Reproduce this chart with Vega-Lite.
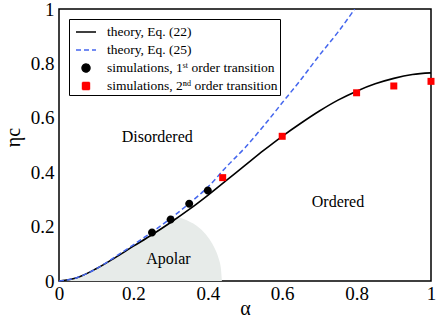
{
  "$schema": "https://vega.github.io/schema/vega-lite/v6.json",
  "autosize": {"type": "none"},
  "width": 372,
  "height": 272,
  "padding": {"left": 59, "top": 9, "right": 5, "bottom": 40},
  "background": "white",
  "config": {
    "font": "Liberation Serif",
    "view": {"stroke": "black", "strokeWidth": 1.5},
    "axis": {
      "domain": false,
      "grid": false,
      "tickColor": "black",
      "tickWidth": 1.2,
      "tickSize": 0,
      "labelFont": "Liberation Serif",
      "labelFontSize": 19,
      "labelColor": "black",
      "labelFlush": false,
      "labelOverlap": false,
      "titleFont": "Liberation Serif",
      "titleFontSize": 20,
      "titleFontWeight": "normal",
      "titleColor": "black"
    },
    "legend": {
      "labelFont": "Liberation Serif",
      "labelFontSize": 13.5,
      "labelColor": "black",
      "labelLimit": 0
    }
  },
  "datasets": {
    "apolar": [
      {"a": 0, "e": 0}, {"a": 0.05, "e": 0.013}, {"a": 0.1, "e": 0.045}, {"a": 0.15, "e": 0.085},
      {"a": 0.2, "e": 0.128}, {"a": 0.25, "e": 0.17}, {"a": 0.3, "e": 0.215}, {"a": 0.32, "e": 0.233},
      {"a": 0.34, "e": 0.225}, {"a": 0.35, "e": 0.219}, {"a": 0.36, "e": 0.212}, {"a": 0.37, "e": 0.203},
      {"a": 0.38, "e": 0.192}, {"a": 0.39, "e": 0.178}, {"a": 0.4, "e": 0.162}, {"a": 0.41, "e": 0.142},
      {"a": 0.42, "e": 0.116}, {"a": 0.43, "e": 0.079}, {"a": 0.435, "e": 0.049}, {"a": 0.438, "e": 0}
    ],
    "theory22": [
      {"series": "theory, Eq. (22)", "a": 0, "e": 0},
      {"series": "theory, Eq. (22)", "a": 0.05, "e": 0.013},
      {"series": "theory, Eq. (22)", "a": 0.1, "e": 0.045},
      {"series": "theory, Eq. (22)", "a": 0.15, "e": 0.085},
      {"series": "theory, Eq. (22)", "a": 0.2, "e": 0.128},
      {"series": "theory, Eq. (22)", "a": 0.25, "e": 0.17},
      {"series": "theory, Eq. (22)", "a": 0.3, "e": 0.215},
      {"series": "theory, Eq. (22)", "a": 0.35, "e": 0.263},
      {"series": "theory, Eq. (22)", "a": 0.4, "e": 0.315},
      {"series": "theory, Eq. (22)", "a": 0.45, "e": 0.37},
      {"series": "theory, Eq. (22)", "a": 0.5, "e": 0.425},
      {"series": "theory, Eq. (22)", "a": 0.55, "e": 0.48},
      {"series": "theory, Eq. (22)", "a": 0.6, "e": 0.532},
      {"series": "theory, Eq. (22)", "a": 0.65, "e": 0.58},
      {"series": "theory, Eq. (22)", "a": 0.7, "e": 0.625},
      {"series": "theory, Eq. (22)", "a": 0.75, "e": 0.665},
      {"series": "theory, Eq. (22)", "a": 0.8, "e": 0.698},
      {"series": "theory, Eq. (22)", "a": 0.85, "e": 0.725},
      {"series": "theory, Eq. (22)", "a": 0.9, "e": 0.745},
      {"series": "theory, Eq. (22)", "a": 0.95, "e": 0.759},
      {"series": "theory, Eq. (22)", "a": 1.0, "e": 0.765}
    ],
    "theory25": [
      {"series": "theory, Eq. (25)", "a": 0, "e": 0},
      {"series": "theory, Eq. (25)", "a": 0.05, "e": 0.013},
      {"series": "theory, Eq. (25)", "a": 0.1, "e": 0.045},
      {"series": "theory, Eq. (25)", "a": 0.15, "e": 0.088},
      {"series": "theory, Eq. (25)", "a": 0.2, "e": 0.133},
      {"series": "theory, Eq. (25)", "a": 0.25, "e": 0.18},
      {"series": "theory, Eq. (25)", "a": 0.3, "e": 0.23},
      {"series": "theory, Eq. (25)", "a": 0.35, "e": 0.285},
      {"series": "theory, Eq. (25)", "a": 0.4, "e": 0.345},
      {"series": "theory, Eq. (25)", "a": 0.45, "e": 0.42},
      {"series": "theory, Eq. (25)", "a": 0.5, "e": 0.49},
      {"series": "theory, Eq. (25)", "a": 0.55, "e": 0.57},
      {"series": "theory, Eq. (25)", "a": 0.6, "e": 0.655},
      {"series": "theory, Eq. (25)", "a": 0.65, "e": 0.74},
      {"series": "theory, Eq. (25)", "a": 0.7, "e": 0.83},
      {"series": "theory, Eq. (25)", "a": 0.75, "e": 0.915},
      {"series": "theory, Eq. (25)", "a": 0.795, "e": 1.0}
    ],
    "sims": [
      {"series": "simulations, 1ˢᵗ order transition", "a": 0.25, "e": 0.178},
      {"series": "simulations, 1ˢᵗ order transition", "a": 0.3, "e": 0.226},
      {"series": "simulations, 1ˢᵗ order transition", "a": 0.35, "e": 0.284},
      {"series": "simulations, 1ˢᵗ order transition", "a": 0.4, "e": 0.333},
      {"series": "simulations, 2ⁿᵈ order transition", "a": 0.44, "e": 0.38},
      {"series": "simulations, 2ⁿᵈ order transition", "a": 0.6, "e": 0.532},
      {"series": "simulations, 2ⁿᵈ order transition", "a": 0.8, "e": 0.692},
      {"series": "simulations, 2ⁿᵈ order transition", "a": 0.9, "e": 0.717},
      {"series": "simulations, 2ⁿᵈ order transition", "a": 1.0, "e": 0.734}
    ],
    "notes": [
      {"label": "Disordered", "a": 0.264, "e": 0.51},
      {"label": "Ordered", "a": 0.75, "e": 0.272},
      {"label": "Apolar", "a": 0.294, "e": 0.061}
    ]
  },
  "resolve": {"axis": {"x": "independent", "y": "independent"}},
  "encoding": {
    "x": {"field": "a", "type": "quantitative", "scale": {"domain": [0, 1], "nice": false}, "axis": null},
    "y": {"field": "e", "type": "quantitative", "scale": {"domain": [0, 1], "nice": false}, "axis": null}
  },
  "layer": [
    {
      "data": {"name": "apolar"},
      "mark": {"type": "area", "color": "#e7ebe9", "interpolate": "monotone"},
      "encoding": {
        "x": {
          "field": "a", "type": "quantitative",
          "scale": {"domain": [0, 1], "nice": false},
          "axis": {
            "orient": "bottom",
            "values": [0, 0.1, 0.2, 0.3, 0.4, 0.5, 0.6, 0.7, 0.8, 0.9, 1],
            "labelExpr": "round(datum.value*10)%2==0 ? format(datum.value, '~g') : ''",
            "labelPadding": 3,
            "title": "α",
            "titleY": 33,
            "titleBaseline": "alphabetic",
            "encode": {"ticks": {"update": {"y2": {"signal": "round(datum.value*10)%2==0 ? -10 : -5"}}}}
          }
        },
        "y": {
          "field": "e", "type": "quantitative",
          "scale": {"domain": [0, 1], "nice": false},
          "axis": {
            "orient": "left",
            "values": [0, 0.1, 0.2, 0.3, 0.4, 0.5, 0.6, 0.7, 0.8, 0.9, 1],
            "labelExpr": "round(datum.value*10)%2==0 ? format(datum.value, '~g') : ''",
            "labelPadding": 5,
            "title": "ηc",
            "titleX": -40,
            "titleY": 128,
            "titleAngle": -90,
            "titleAlign": "center",
            "titleBaseline": "alphabetic",
            "encode": {"ticks": {"update": {"x2": {"signal": "round(datum.value*10)%2==0 ? 10 : 5"}}}}
          }
        }
      }
    },
    {
      "data": {"name": "theory22"},
      "mark": {"type": "line", "strokeWidth": 1.6, "interpolate": "monotone"},
      "encoding": {
        "color": {
          "field": "series", "type": "nominal",
          "scale": {
            "domain": ["theory, Eq. (22)", "theory, Eq. (25)", "simulations, 1ˢᵗ order transition", "simulations, 2ⁿᵈ order transition"],
            "range": ["black", "#4466ee", "black", "#ff0000"]
          },
          "legend": {
            "title": null,
            "orient": "none",
            "legendX": 10,
            "legendY": 10,
            "padding": 2,
            "strokeColor": "black",
            "fillColor": "white",
            "symbolSize": 400,
            "symbolOffset": 4,
            "labelOffset": 10,
            "rowPadding": 0,
            "labelFont": "Liberation Serif",
            "labelFontSize": 13.5,
            "labelLimit": 0,
            "encode": {
              "symbols": {
                "update": {
                  "shape": {"scale": "shape", "field": "value"},
                  "size": {"value": 400},
                  "fill": {"scale": "color", "field": "value"},
                  "stroke": {"scale": "color", "field": "value"},
                  "strokeDash": {"scale": "strokeDash", "field": "value"},
                  "strokeWidth": {"value": 1.4},
                  "opacity": {"value": 1}
                }
              }
            }
          }
        }
      }
    },
    {
      "data": {"name": "theory25"},
      "mark": {"type": "line", "strokeWidth": 1.5, "interpolate": "monotone"},
      "encoding": {
        "color": {"field": "series", "type": "nominal"},
        "strokeDash": {
          "field": "series", "type": "nominal",
          "scale": {
            "domain": ["theory, Eq. (22)", "theory, Eq. (25)", "simulations, 1ˢᵗ order transition", "simulations, 2ⁿᵈ order transition"],
            "range": [[1, 0], [5, 3], [1, 0], [1, 0]]
          },
          "legend": null
        }
      }
    },
    {
      "data": {"name": "sims"},
      "mark": {"type": "point", "filled": true, "opacity": 1, "size": 400},
      "encoding": {
        "color": {"field": "series", "type": "nominal"},
        "shape": {
          "field": "series", "type": "nominal",
          "scale": {
            "domain": ["theory, Eq. (22)", "theory, Eq. (25)", "simulations, 1ˢᵗ order transition", "simulations, 2ⁿᵈ order transition"],
            "range": ["M-1,0H1", "M-1,0H1", "M-0.4,0A0.4,0.4,0,1,1,0.4,0A0.4,0.4,0,1,1,-0.4,0Z", "M-0.35,-0.35H0.35V0.35H-0.35Z"]
          },
          "legend": null
        }
      }
    },
    {
      "data": {"name": "notes"},
      "mark": {"type": "text", "font": "Liberation Serif", "fontSize": 16, "color": "black", "align": "center", "baseline": "alphabetic"},
      "encoding": {
        "text": {"field": "label"},
        "x": {
          "field": "a", "type": "quantitative",
          "scale": {"domain": [0, 1], "nice": false},
          "axis": {
            "orient": "top",
            "values": [0, 0.1, 0.2, 0.3, 0.4, 0.5, 0.6, 0.7, 0.8, 0.9, 1],
            "labels": false,
            "title": null,
            "encode": {"ticks": {"update": {"y2": {"signal": "round(datum.value*10)%2==0 ? 10 : 5"}}}}
          }
        },
        "y": {
          "field": "e", "type": "quantitative",
          "scale": {"domain": [0, 1], "nice": false},
          "axis": {
            "orient": "right",
            "values": [0, 0.1, 0.2, 0.3, 0.4, 0.5, 0.6, 0.7, 0.8, 0.9, 1],
            "labels": false,
            "title": null,
            "encode": {"ticks": {"update": {"x2": {"signal": "round(datum.value*10)%2==0 ? -10 : -5"}}}}
          }
        }
      }
    }
  ]
}
